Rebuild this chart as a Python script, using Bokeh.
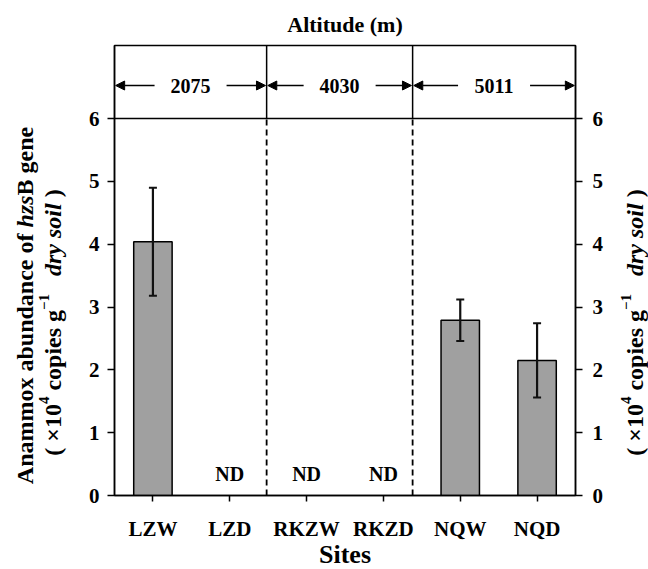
import numpy as np
from bokeh.plotting import figure
from bokeh.layouts import row
from bokeh.models import (ColumnDataSource, FixedTicker, LinearAxis, Range1d, Span,
                          Label, Arrow, NormalHead, Whisker, TeeHead)
from bokeh.core.properties import value
from bokeh.embed import file_html
from bokeh.resources import INLINE

# ---------------- data ----------------
sites = ["LZW", "LZD", "RKZW", "RKZD", "NQW", "NQD"]
abundance = [4.04, 0.0, 0.0, 0.0, 2.79, 2.15]
error = [0.86, 0.0, 0.0, 0.0, 0.33, 0.59]
detected = [True, False, False, False, True, True]
altitudes = ["2075", "4030", "5011"]
group_edges = [0.0, 1.98, 3.88, 6.0]
y_ticks = [0, 1, 2, 3, 4, 5, 6]

FONT = "Liberation Serif"
Y_TOP = 7.162

# page geometry
CW, CH = 648, 569
LW, RW = 70, 30                     # side label panels
FL, FR, FT, FB = 114, 575, 45, 495  # plot frame on the page


def py2y(py):
    return (FB - py) / (FB - FT) * Y_TOP


p = figure(frame_width=FR - FL, frame_height=FB - FT,
           x_range=Range1d(0, 6), y_range=Range1d(0, Y_TOP),
           output_backend="svg", toolbar_location=None,
           min_border_left=FL - LW, min_border_right=CW - RW - FR,
           min_border_top=FT, min_border_bottom=CH - FB)
p.xgrid.visible = False
p.ygrid.visible = False
p.outline_line_color = "black"
p.outline_line_width = 1.5
p.background_fill_color = "white"
p.border_fill_color = "white"

p.title.text = "Altitude (m)"
p.title.align = "center"
p.title.text_font = FONT
p.title.text_font_style = "bold"
p.title.text_font_size = "22px"
p.title.text_color = "black"
p.title.standoff = 18

xpos = [i + 0.5 for i in range(len(sites))]


def style_axis(ax, standoff):
    ax.axis_line_color = "black"
    ax.axis_line_width = 1.5
    ax.major_tick_line_color = "black"
    ax.major_tick_line_width = 1.5
    ax.major_tick_out = 7
    ax.major_tick_in = 0
    ax.minor_tick_line_color = None
    ax.major_label_text_font = FONT
    ax.major_label_text_font_style = "bold"
    ax.major_label_text_font_size = "21px"
    ax.major_label_text_color = "black"
    ax.major_label_standoff = standoff


# bottom axis
xa = p.xaxis[0]
xa.ticker = FixedTicker(ticks=xpos)
xa.major_label_overrides = {x: s for x, s in zip(xpos, sites)}
style_axis(xa, 15)
xa.major_tick_out = 6
xa.axis_label = "Sites"
xa.axis_label_text_font = FONT
xa.axis_label_text_font_style = "bold"
xa.axis_label_text_font_size = "26px"
xa.axis_label_text_color = "black"
xa.axis_label_standoff = -4

# left axis
ya = p.yaxis[0]
ya.ticker = FixedTicker(ticks=y_ticks)
style_axis(ya, 8)

# right axis
ra = LinearAxis(ticker=FixedTicker(ticks=y_ticks))
style_axis(ra, 10)
p.add_layout(ra, "right")

# bars
bx = [x for x, d in zip(xpos, detected) if d]
bt = [a for a, d in zip(abundance, detected) if d]
be = [e for e, d in zip(error, detected) if d]
src = ColumnDataSource(dict(x=bx, top=bt,
                            upper=[t + e for t, e in zip(bt, be)],
                            lower=[t - e for t, e in zip(bt, be)]))
p.vbar(x="x", top="top", width=0.5, source=src, fill_color="#a0a0a0",
       line_color="black", line_width=1.5)
wh = Whisker(base="x", upper="upper", lower="lower", source=src,
             line_color="#111111", line_width=2.2, level="annotation",
             upper_head=TeeHead(size=8, line_width=2, line_color="#111111"),
             lower_head=TeeHead(size=8, line_width=2, line_color="#111111"))
p.add_layout(wh)

# ND labels
ndx = [x for x, d in zip(xpos, detected) if not d]
p.text(x=ndx, y=[0.35] * len(ndx), text=["ND"] * len(ndx),
       text_font=value(FONT), text_font_style="bold", text_font_size="20px",
       text_align="center", text_baseline="middle", text_color="black")

# horizontal line at 6
p.add_layout(Span(location=6, dimension="width", line_color="black", line_width=1.5))

# group dividers
inner = group_edges[1:-1]
p.segment(x0=inner, y0=[0] * len(inner), x1=inner, y1=[6] * len(inner),
          line_color="black", line_width=1.8, line_dash="6 4")
p.segment(x0=inner, y0=[6] * len(inner), x1=inner, y1=[Y_TOP] * len(inner),
          line_color="black", line_width=1.5)

# altitude header with arrows
ARROW_Y = py2y(85)
gap = 36 / (FR - FL) * 6.0
for i, alt in enumerate(altitudes):
    a, b = group_edges[i], group_edges[i + 1]
    c = (a + b) / 2
    p.add_layout(Label(x=c, y=ARROW_Y, text=alt, text_font=FONT, text_font_style="bold",
                       text_font_size="20px", text_align="center", text_baseline="middle",
                       text_color="black"))
    for xs, xe in [(c - gap, a + 0.015), (c + gap, b - 0.015)]:
        p.add_layout(Arrow(x_start=xs, y_start=ARROW_Y, x_end=xe, y_end=ARROW_Y,
                           line_color="black", line_width=1.5,
                           end=NormalHead(size=9, fill_color="black", line_color="black")))


# ---------------- side panels with rotated, mixed-style axis titles ----------------
# same top/bottom borders as the main plot so the row keeps them aligned;
# data coordinates of a panel are page pixels (y measured upward from page bottom)
def side_panel(w):
    f = figure(frame_width=w, frame_height=FB - FT, title=None,
               x_range=Range1d(0, w), y_range=Range1d(CH - FB, CH - FT),
               output_backend="svg", toolbar_location=None,
               x_axis_location=None, y_axis_location=None,
               min_border_left=0, min_border_right=0,
               min_border_top=FT, min_border_bottom=CH - FB)
    f.outline_line_color = None
    f.xgrid.visible = False
    f.ygrid.visible = False
    f.background_fill_color = "white"
    f.border_fill_color = "white"
    return f


BOLD = {'A': 722, 'B': 667, 'a': 500, 'b': 556, 'c': 444, 'd': 556, 'e': 444, 'f': 333,
        'g': 500, 'i': 278, 'm': 833, 'n': 556, 'o': 500, 'p': 556, 's': 389, 'u': 556,
        'x': 500, ' ': 250, '(': 333, ')': 333, '×': 570, '0': 500, '1': 500, '4': 500,
        '−': 570}
BOLDIT = {'h': 556, 'z': 389, 's': 389, 'd': 500, 'r': 389, 'y': 444, 'o': 500,
          'i': 278, 'l': 278, ' ': 250}


def seg_width(t, style, fs):
    tab = BOLDIT if "italic" in style else BOLD
    return sum(tab.get(ch, 500) for ch in t) / 1000.0 * fs


def rotated_line(f, segments, center_x, center_py, fs):
    widths = []
    for t, st, sup in segments:
        sz = fs * 0.62 if sup else fs
        widths.append(seg_width(t, st, sz))
    total = sum(widths)
    start = center_py + total / 2
    cum = 0.0
    for (t, st, sup), w in zip(segments, widths):
        sz = fs * 0.62 if sup else fs
        lead = len(t) - len(t.lstrip(" "))
        shown = t.strip(" ")
        if shown:
            xc = center_x - (0.34 * fs if sup else 0)
            off = seg_width(" " * lead, st, sz)
            f.text(x=[xc], y=[CH - (start - cum - off)], text=[shown], angle=np.pi / 2,
                   text_font=value(FONT), text_font_style=st,
                   text_font_size=f"{sz:.1f}px", text_align="left",
                   text_baseline="middle", text_color="black")
        cum += w


line1 = [("Anammox abundance of ", "bold", False), ("hzs", "bold italic", False),
         ("B gene", "bold", False)]
line2 = [("( ×10", "bold", False), ("4", "bold", True), (" copies g", "bold", False),
         ("−1", "bold", True), ("   ", "bold", False), ("dry soil", "bold italic", False),
         (" )", "bold", False)]
FS = 24

left = side_panel(LW)
rotated_line(left, line1, 24, 305, FS)
rotated_line(left, line2, 52, 322, FS)

right = side_panel(RW)
rotated_line(right, line2, 634 - (CW - RW), 322, FS)

layout = row(left, p, right, spacing=0)
open("out.html", "w").write(file_html(layout, INLINE))
